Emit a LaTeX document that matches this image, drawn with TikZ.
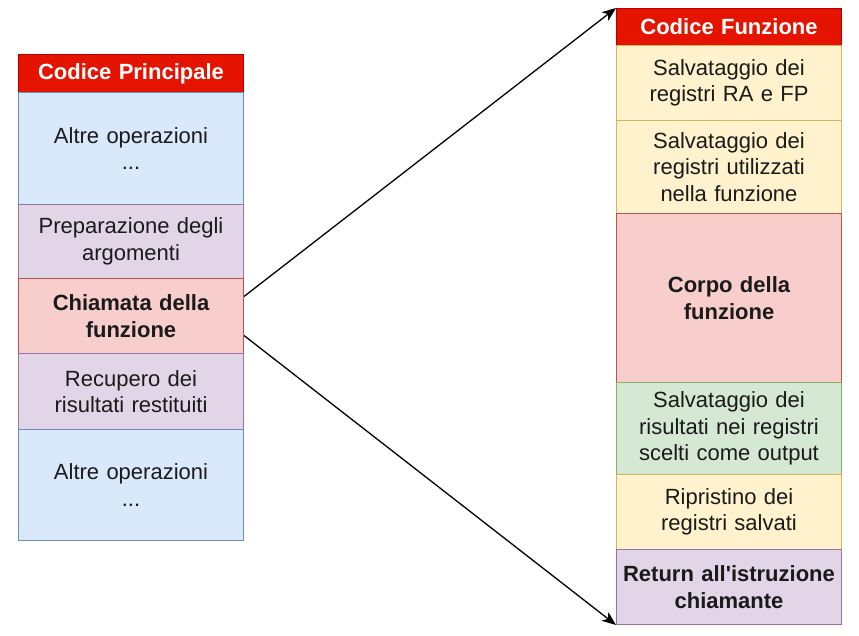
\documentclass[tikz,border=0pt]{standalone}
\usepackage{fontspec}
\setmainfont{Liberation Sans}
\usetikzlibrary{arrows.meta}
\definecolor{hdrfill}{HTML}{E51400}
\definecolor{hdrline}{HTML}{B20000}
\definecolor{bluefill}{HTML}{DAE8FC}
\definecolor{blueline}{HTML}{6C8EBF}
\definecolor{purpfill}{HTML}{E1D5E7}
\definecolor{purpline}{HTML}{9673A6}
\definecolor{redfill}{HTML}{F8CECC}
\definecolor{redline}{HTML}{B85450}
\definecolor{yelfill}{HTML}{FFF2CC}
\definecolor{yelline}{HTML}{D6B656}
\definecolor{grnfill}{HTML}{D5E8D4}
\definecolor{grnline}{HTML}{82B366}
\definecolor{txt}{HTML}{1A1A1A}
\begin{document}
\begin{tikzpicture}[x=1pt,y=-1pt,
  cell/.style={draw, line width=1pt, anchor=north west, inner sep=0pt,
    minimum width=225pt, text width=221pt, align=center, text=txt,
    font=\fontsize{22}{26.5}\selectfont},
  hdr/.style={cell, fill=hdrfill, draw=hdrline, text=white,
    font=\fontsize{22}{26.5}\selectfont\bfseries},
  bluec/.style={cell, fill=bluefill, draw=blueline},
  purpc/.style={cell, fill=purpfill, draw=purpline},
  redc/.style={cell, fill=redfill, draw=redline},
  yelc/.style={cell, fill=yelfill, draw=yelline},
  grnc/.style={cell, fill=grnfill, draw=grnline},
  conn/.style={line width=1.3pt, -{Stealth[length=14pt,width=11pt,inset=4pt]}}]
\useasboundingbox (0,0) rectangle (859,636);
% left column
\node[hdr, minimum height=38pt] (lhead) at (18,54) {Codice Principale};
\node[bluec, minimum height=112pt] (l1) at (18,92) {Altre operazioni\\...};
\node[purpc, minimum height=74pt] (l2) at (18,204) {Preparazione degli\\argomenti};
\node[redc, minimum height=75pt, font=\fontsize{22}{26.5}\selectfont\bfseries] (l3) at (18,278) {Chiamata della\\funzione};
\node[purpc, minimum height=76pt] (l4) at (18,353) {Recupero dei\\risultati restituiti};
\node[bluec, minimum height=111pt] (l5) at (18,429) {Altre operazioni\\...};
% right column
\node[hdr, minimum height=37pt] (rhead) at (616,8) {Codice Funzione};
\node[yelc, minimum height=75pt] (r1) at (616,45) {Salvataggio dei\\registri RA e FP};
\node[yelc, minimum height=93pt] (r2) at (616,120) {Salvataggio dei\\registri utilizzati\\nella funzione};
\node[redc, minimum height=169pt, font=\fontsize{22}{26.5}\selectfont\bfseries] (r3) at (616,213) {Corpo della\\funzione};
\node[grnc, minimum height=92pt] (r4) at (616,382) {Salvataggio dei\\risultati nei registri\\scelti come output};
\node[yelc, minimum height=75pt] (r5) at (616,474) {Ripristino dei\\registri salvati};
\node[purpc, minimum height=75pt, font=\fontsize{22}{26.5}\selectfont\bfseries] (r6) at (616,549) {Return all\textquotesingle istruzione\\chiamante};
% connectors
\draw[conn] ([yshift=19.5pt]l3.east) -- (rhead.north west);
\draw[conn] ([yshift=-19.5pt]l3.east) -- (r6.south west);
\end{tikzpicture}
\end{document}
